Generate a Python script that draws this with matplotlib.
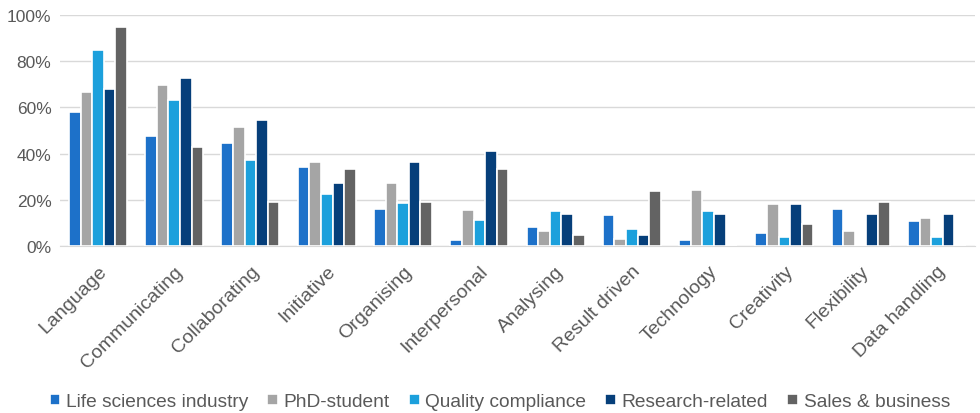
import matplotlib.pyplot as plt
import numpy as np

plt.rcParams['font.family'] = ['Liberation Sans', 'DejaVu Sans']

skills = ['Language', 'Communicating', 'Collaborating', 'Initiative', 'Organising',
          'Interpersonal', 'Analysing', 'Result driven', 'Technology', 'Creativity',
          'Flexibility', 'Data handling']

life_sciences = [57.8, 47.4, 44.7, 34.1, 15.8, 2.7, 8.0, 13.2, 2.7, 5.4, 15.8, 10.6]
phd_student = [66.5, 69.5, 51.5, 36.3, 27.3, 15.3, 6.2, 3.0, 24.1, 18.2, 6.2, 12.1]
quality = [85.0, 63.0, 37.0, 22.3, 18.5, 11.1, 14.9, 7.4, 14.9, 3.8, 0.0, 3.8]
research = [68.0, 72.6, 54.4, 27.3, 36.3, 40.9, 13.6, 4.5, 13.6, 18.2, 13.6, 13.6]
sales = [95.0, 42.8, 19.1, 33.2, 19.1, 33.2, 4.8, 23.7, 0.0, 9.5, 19.1, 0.0]

series = [
    ('Life sciences industry', life_sciences, '#1D71C9'),
    ('PhD-student', phd_student, '#A5A5A5'),
    ('Quality compliance', quality, '#1CA0DC'),
    ('Research-related', research, '#063F7A'),
    ('Sales & business', sales, '#636363'),
]

fig = plt.figure(figsize=(9.8, 4.14), dpi=100)
ax = fig.add_axes([0.061, 0.404, 0.934, 0.557])

x = np.arange(len(skills))
w = 0.152
for i, (name, vals, col) in enumerate(series):
    ax.bar(x + (i - 2) * w, np.array(vals) / 100, w, color=col, label=name,
           edgecolor='white', linewidth=1.2, zorder=3)

ax.set_xlim(-0.5, len(skills) - 0.5)
ax.set_ylim(0, 1)
ax.set_yticks(np.arange(0, 1.01, 0.2))
ax.set_yticklabels([f'{int(round(v * 100))}%' for v in np.arange(0, 1.01, 0.2)])
ax.yaxis.grid(True, color='#D9D9D9', linewidth=1, zorder=0)
for s in ['top', 'right', 'left']:
    ax.spines[s].set_visible(False)
ax.spines['bottom'].set_color('#D9D9D9')
ax.tick_params(axis='y', length=0, labelsize=12.5, colors='#595959', pad=6)
ax.tick_params(axis='x', length=0, labelsize=14, colors='#595959', pad=12)
ax.set_xticks(x)
ax.set_xticklabels(skills, rotation=45, ha='right', rotation_mode='anchor')

fig.legend(loc='lower center', bbox_to_anchor=(0.51, -0.035), ncol=5, frameon=False,
           fontsize=13.8, handlelength=0.55, handleheight=0.55, handletextpad=0.3,
           columnspacing=1.0, labelcolor='#595959')

fig.savefig('out.png', dpi=100)
